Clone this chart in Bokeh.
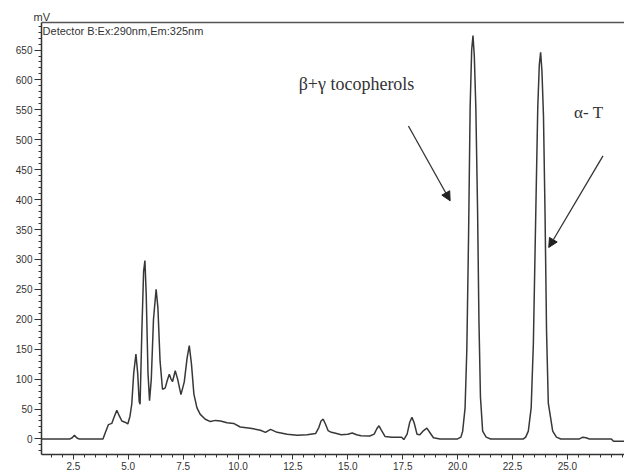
from bokeh.plotting import figure
from bokeh.models import (Range1d, FixedTicker, LinearAxis, Label, Arrow, NormalHead,
                          PrintfTickFormatter)
from bokeh.embed import file_html
from bokeh.resources import INLINE

# --- data (time in min, signal in mV) ---
time_min = [1.05, 2.35, 2.45, 2.55, 2.65, 2.75, 3.85, 3.95, 4.1, 4.25, 4.35, 4.48, 4.6, 4.71,
            4.85, 4.98, 5.08, 5.16, 5.25, 5.35, 5.43, 5.5, 5.54, 5.62, 5.7, 5.76, 5.82, 5.9,
            5.97, 6.05, 6.15, 6.27, 6.35, 6.45, 6.56, 6.68, 6.78, 6.87, 6.95, 7.02, 7.14,
            7.25, 7.4, 7.55, 7.68, 7.78, 7.88, 7.99, 8.13, 8.28, 8.51, 8.74, 8.97, 9.2, 9.5,
            9.8, 10.1, 10.56, 11.02, 11.25, 11.48, 11.78, 12.24, 12.69, 13.15, 13.53, 13.68,
            13.78, 13.88, 13.98, 14.1, 14.25, 14.4, 14.7, 15.0, 15.2, 15.4, 15.6, 16.0, 16.2,
            16.32, 16.42, 16.52, 16.7, 17.0, 17.45, 17.55, 17.7, 17.82, 17.92, 18.02, 18.15,
            18.28, 18.45, 18.6, 18.75, 18.9, 19.2, 20.0, 20.15, 20.23, 20.34, 20.42, 20.5,
            20.57, 20.64, 20.7, 20.76, 20.83, 20.91, 20.97, 21.04, 21.14, 21.3, 21.5, 23.0,
            23.1, 23.22, 23.35, 23.45, 23.57, 23.65, 23.72, 23.78, 23.84, 23.91, 23.98, 24.05,
            24.13, 24.33, 24.5, 24.7, 25.55, 25.7, 25.85, 26.0, 27.0, 27.1, 27.7]
signal_mv = [0, 0, 2, 6, 2, 0, 0, 10, 24, 26, 36, 48, 38, 30,
             28, 25, 38, 58, 110, 142, 110, 62, 58, 180, 280, 298, 240, 110,
             64, 100, 200, 250, 220, 130, 83, 85, 98, 108, 100, 96, 114,
             100, 74, 95, 135, 156, 125, 75, 52, 41, 33, 29, 31, 30, 27,
             26, 20, 18, 14.5, 11, 16, 11, 8, 6, 7, 9, 19,
             30, 33, 25, 14, 11, 10, 7, 8, 10, 7, 5.5, 5, 8,
             17, 22, 15, 4, 3, 3, -1, 8, 28, 36, 27, 8,
             7, 14, 18, 10, 2, 0, 0, 3, 13, 52, 150, 342,
             554, 650, 674, 640, 554, 380, 200, 70, 13, 3, 0, 0,
             3, 13, 52, 160, 398, 554, 625, 646, 615, 540, 380, 180,
             60, 13, 3, 0, 0, 3, 2, 0, 0, -4, -4]

x_major_ticks = [2.5, 5.0, 7.5, 10.0, 12.5, 15.0, 17.5, 20.0, 22.5, 25.0]
x_minor_ticks = [1.5 + 0.5 * i for i in range(53)]
y_major_ticks = [0, 50, 100, 150, 200, 250, 300, 350, 400, 450, 500, 550, 600, 650]
y_minor_ticks = [-20 + 10 * i for i in range(72)]

p = figure(width=624, height=472, output_backend="svg", toolbar_location=None,
           x_range=Range1d(1.05, 27.6), y_range=Range1d(-26, 696),
           min_border_left=41, min_border_right=0, min_border_top=22, min_border_bottom=18,
           background_fill_color="white", border_fill_color="white")
p.outline_line_color = None
p.xgrid.visible = False
p.ygrid.visible = False

# unit label "mV" at the top-left, above the frame
p.title.text = "mV"
p.title.align = "left"
p.title.offset = -8
p.title.standoff = 0
p.title.text_font = "Liberation Sans"
p.title.text_font_size = "11px"
p.title.text_font_style = "normal"
p.title.text_color = "#333333"

p.line(time_min, signal_mv, line_color="#383838", line_width=1.5)

axis_color = "#333333"
tick_font = "Liberation Sans"

xa = p.xaxis[0]
xa.ticker = FixedTicker(ticks=x_major_ticks, minor_ticks=x_minor_ticks)
xa.formatter = PrintfTickFormatter(format="%.1f")
xa.axis_line_color = axis_color
xa.axis_line_width = 1.5
xa.major_tick_line_color = axis_color
xa.minor_tick_line_color = axis_color
xa.major_tick_in = 0
xa.major_tick_out = 5
xa.minor_tick_in = 0
xa.minor_tick_out = 3
xa.major_label_standoff = 2
xa.major_label_text_font = tick_font
xa.major_label_text_font_size = "10px"
xa.major_label_text_color = axis_color

ya = p.yaxis[0]
ya.ticker = FixedTicker(ticks=y_major_ticks, minor_ticks=y_minor_ticks)
ya.axis_line_color = axis_color
ya.axis_line_width = 1.5
ya.major_tick_line_color = axis_color
ya.minor_tick_line_color = axis_color
ya.major_tick_in = 0
ya.major_tick_out = 7
ya.minor_tick_in = 0
ya.minor_tick_out = 3
ya.major_label_standoff = 2
ya.major_label_text_font = tick_font
ya.major_label_text_font_size = "10px"
ya.major_label_text_color = axis_color

top = LinearAxis(ticker=FixedTicker(ticks=[]), axis_line_color="#555555", axis_line_width=1.5,
                 major_tick_in=0, major_tick_out=0, minor_tick_in=0, minor_tick_out=0,
                 major_label_text_font_size="0px")
p.add_layout(top, "above")

p.add_layout(Label(x=1.1, y=682, text="Detector B:Ex:290nm,Em:325nm", text_font=tick_font,
                   text_font_size="11px", text_color=axis_color, text_baseline="alphabetic"))
p.add_layout(Label(x=26.73, y=-48.5, text="min", text_font=tick_font, text_font_size="10px",
                   text_color=axis_color, text_baseline="middle"))

p.add_layout(Label(x=12.76, y=593.6, text="β+γ tocopherols", text_font="Liberation Serif",
                   text_font_size="18px", text_color="#333333", text_baseline="middle"))
p.add_layout(Label(x=25.3, y=545, text="α- T", text_font="Liberation Serif",
                   text_font_size="17px", text_color="#333333", text_baseline="middle"))

p.add_layout(Arrow(x_start=17.76, y_start=523, x_end=19.66, y_end=398,
                   line_color="#333333", line_width=1.3,
                   end=NormalHead(size=9, fill_color="#222222", line_color="#222222")))
p.add_layout(Arrow(x_start=26.62, y_start=473, x_end=24.15, y_end=320,
                   line_color="#333333", line_width=1.3,
                   end=NormalHead(size=9, fill_color="#222222", line_color="#222222")))

open("out.html", "w").write(file_html(p, INLINE))
